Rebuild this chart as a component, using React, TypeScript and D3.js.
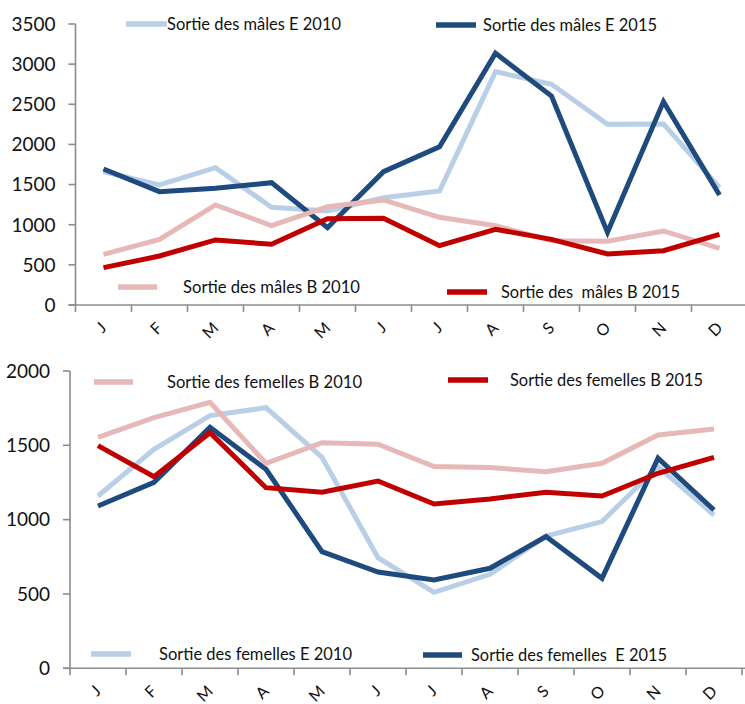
import React from "react";
import * as d3 from "d3";

const months = ["J", "F", "M", "A", "M", "J", "J", "A", "S", "O", "N", "D"];

// Top chart (mâles)
const malesE2010 = [1660, 1495, 1711, 1217, 1170, 1335, 1420, 2907, 2749, 2251, 2255, 1462];
const malesE2015 = [1694, 1412, 1453, 1524, 963, 1661, 1972, 3135, 2603, 905, 2533, 1370];
const malesB2010 = [631, 818, 1246, 988, 1225, 1308, 1092, 988, 801, 795, 922, 706];
const malesB2015 = [465, 610, 810, 756, 1075, 1080, 739, 943, 818, 635, 677, 880];
const topTicks = [0, 500, 1000, 1500, 2000, 2500, 3000, 3500];

// Bottom chart (femelles)
const femE2010 = [1159, 1473, 1700, 1753, 1419, 744, 511, 632, 890, 987, 1357, 1031];
const femE2015 = [1092, 1251, 1621, 1339, 785, 648, 594, 673, 886, 605, 1413, 1065];
const femB2010 = [1554, 1686, 1789, 1379, 1518, 1507, 1357, 1350, 1323, 1379, 1570, 1610];
const femB2015 = [1498, 1289, 1585, 1215, 1184, 1260, 1105, 1139, 1184, 1159, 1312, 1419];
const bottomTicks = [0, 500, 1000, 1500, 2000];

const LIGHT_BLUE = "#b9cfe8";
const DARK_BLUE = "#1f4a7d";
const PINK = "#e6b9b8";
const RED = "#c00000";
const AXIS = "#8c8c8c";
const FONT = "Lato, 'Open Sans', sans-serif";

type Series = { values: number[]; color: string };
type Legend = { label: string; color: string; x1: number; x2: number; y: number; tx: number; tw: number };

function Panel(props: {
  x0: number; x1: number; yTop: number; yBottom: number; maxV: number; ticks: number[];
  series: Series[]; legends: Legend[];
}) {
  const { x0, x1, yTop, yBottom, maxV, ticks, series, legends } = props;
  const x = d3.scaleBand<number>().domain(d3.range(months.length)).range([x0, x1]);
  const y = d3.scaleLinear().domain([0, maxV]).range([yBottom, yTop]);
  const line = d3.line<number>().x((_, i) => (x(i) as number) + x.bandwidth() / 2).y((v) => y(v));
  const boundaries = d3.range(months.length + 1).map((i) => x0 + i * x.bandwidth());
  return (
    <g>
      {/* axes */}
      <line x1={x0} x2={x0} y1={yTop} y2={yBottom} stroke={AXIS} strokeWidth={1.6} />
      <line x1={x0 - 7} x2={745} y1={yBottom} y2={yBottom} stroke={AXIS} strokeWidth={1.6} />
      {ticks.map((t) => (
        <g key={t}>
          <line x1={x0 - 7} x2={x0} y1={y(t)} y2={y(t)} stroke={AXIS} strokeWidth={1.6} />
          <text x={x0 - 20} y={y(t)} dy="0.36em" textAnchor="end" fontSize={19} fontFamily={FONT} fill="#111">
            {t}
          </text>
        </g>
      ))}
      {boundaries.map((b, i) => (
        <line key={i} x1={b} x2={b} y1={yBottom} y2={yBottom + 7} stroke={AXIS} strokeWidth={1.6} />
      ))}
      {months.map((m, i) => {
        const cx = (x(i) as number) + x.bandwidth() / 2;
        return (
          <text key={i} transform={`translate(${cx + 4},${yBottom + 24}) rotate(-45)`} textAnchor="end"
            fontSize={16} fontFamily={FONT} fill="#111">
            {m}
          </text>
        );
      })}
      {/* series */}
      {series.map((s, i) => (
        <path key={i} d={line(s.values) as string} fill="none" stroke={s.color} strokeWidth={5} strokeLinejoin="miter" />
      ))}
      {/* legends */}
      {legends.map((l, i) => (
        <g key={i}>
          <line x1={l.x1} x2={l.x2} y1={l.y} y2={l.y} stroke={l.color} strokeWidth={5.5} />
          <text x={l.tx} y={l.y} dy="0.35em" fontSize={18} fontFamily={FONT} fill="#111"
            textLength={l.tw} lengthAdjust="spacingAndGlyphs" style={{ whiteSpace: "pre" }}>
            {l.label}
          </text>
        </g>
      ))}
    </g>
  );
}

export default function App() {
  return (
    <svg width={745} height={704} style={{ position: "absolute", left: 0, top: 0, background: "#fff" }}>
      <rect width={745} height={704} fill="#fff" />
      <Panel
        x0={75.5} x1={747.5} yTop={24} yBottom={305} maxV={3500} ticks={topTicks}
        series={[
          { values: malesE2010, color: LIGHT_BLUE },
          { values: malesE2015, color: DARK_BLUE },
          { values: malesB2010, color: PINK },
          { values: malesB2015, color: RED },
        ]}
        legends={[
          { label: "Sortie des mâles E 2010", color: LIGHT_BLUE, x1: 126, x2: 167, y: 24, tx: 167, tw: 174 },
          { label: "Sortie des mâles E 2015", color: DARK_BLUE, x1: 436, x2: 476, y: 25, tx: 483, tw: 174 },
          { label: "Sortie des mâles B 2010", color: PINK, x1: 118, x2: 157, y: 287, tx: 183, tw: 177 },
          { label: "Sortie des  mâles B 2015", color: RED, x1: 447, x2: 487, y: 292, tx: 501, tw: 179 },
        ]}
      />
      <Panel
        x0={70} x1={742} yTop={371} yBottom={668.3} maxV={2000} ticks={bottomTicks}
        series={[
          { values: femE2010, color: LIGHT_BLUE },
          { values: femE2015, color: DARK_BLUE },
          { values: femB2010, color: PINK },
          { values: femB2015, color: RED },
        ]}
        legends={[
          { label: "Sortie des femelles B 2010", color: PINK, x1: 94, x2: 133, y: 382, tx: 167, tw: 195 },
          { label: "Sortie des femelles B 2015", color: RED, x1: 448, x2: 488, y: 380, tx: 510, tw: 193 },
          { label: "Sortie des femelles E 2010", color: LIGHT_BLUE, x1: 91, x2: 131, y: 654, tx: 159, tw: 193 },
          { label: "Sortie des femelles  E 2015", color: DARK_BLUE, x1: 423, x2: 462, y: 655, tx: 471, tw: 196 },
        ]}
      />
    </svg>
  );
}
